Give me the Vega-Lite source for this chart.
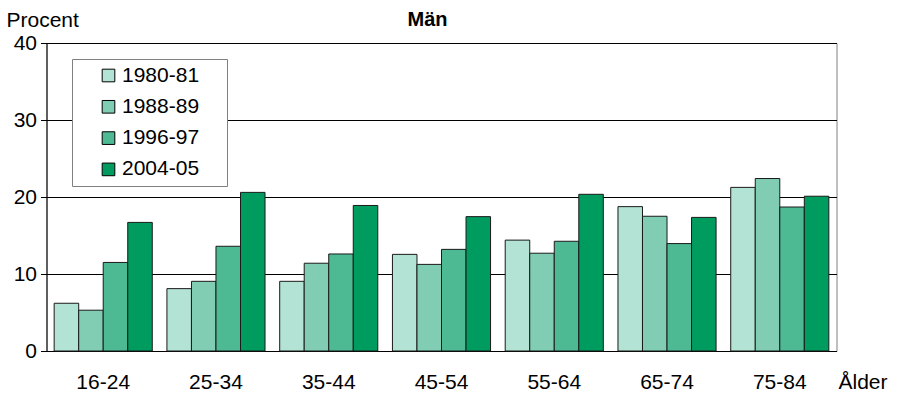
{
  "$schema": "https://vega.github.io/schema/vega-lite/v6.json",
  "autosize": "none",
  "width": 790,
  "height": 308,
  "padding": {"left": 46.5, "top": 43, "right": 65.5, "bottom": 42},
  "background": "white",
  "config": {
    "font": "Liberation Sans",
    "view": {"stroke": "#808080", "strokeWidth": 1}
  },
  "title": {
    "text": "Män",
    "fontSize": 20,
    "fontWeight": "bold",
    "font": "Liberation Sans",
    "color": "black",
    "anchor": "middle",
    "frame": "group",
    "baseline": "alphabetic",
    "offset": 13,
    "dx": -14,
    "dy": 50
  },
  "data": {
    "values": [
      {"age": "16-24", "period": "1980-81", "pct": 6.2},
      {"age": "16-24", "period": "1988-89", "pct": 5.3},
      {"age": "16-24", "period": "1996-97", "pct": 11.5},
      {"age": "16-24", "period": "2004-05", "pct": 16.7},
      {"age": "25-34", "period": "1980-81", "pct": 8.1},
      {"age": "25-34", "period": "1988-89", "pct": 9.05},
      {"age": "25-34", "period": "1996-97", "pct": 13.6},
      {"age": "25-34", "period": "2004-05", "pct": 20.6},
      {"age": "35-44", "period": "1980-81", "pct": 9.05},
      {"age": "35-44", "period": "1988-89", "pct": 11.4},
      {"age": "35-44", "period": "1996-97", "pct": 12.6},
      {"age": "35-44", "period": "2004-05", "pct": 18.9},
      {"age": "45-54", "period": "1980-81", "pct": 12.55},
      {"age": "45-54", "period": "1988-89", "pct": 11.25},
      {"age": "45-54", "period": "1996-97", "pct": 13.2},
      {"age": "45-54", "period": "2004-05", "pct": 17.45},
      {"age": "55-64", "period": "1980-81", "pct": 14.4},
      {"age": "55-64", "period": "1988-89", "pct": 12.7},
      {"age": "55-64", "period": "1996-97", "pct": 14.25},
      {"age": "55-64", "period": "2004-05", "pct": 20.35},
      {"age": "65-74", "period": "1980-81", "pct": 18.75},
      {"age": "65-74", "period": "1988-89", "pct": 17.5},
      {"age": "65-74", "period": "1996-97", "pct": 13.95},
      {"age": "65-74", "period": "2004-05", "pct": 17.35},
      {"age": "75-84", "period": "1980-81", "pct": 21.25},
      {"age": "75-84", "period": "1988-89", "pct": 22.4},
      {"age": "75-84", "period": "1996-97", "pct": 18.7},
      {"age": "75-84", "period": "2004-05", "pct": 20.1}
    ]
  },
  "mark": {"type": "bar", "stroke": "#1a1a1a", "strokeWidth": 1},
  "encoding": {
    "x": {
      "field": "age",
      "type": "nominal",
      "sort": null,
      "scale": {"paddingInner": 0.13, "paddingOuter": 0.068},
      "axis": {
        "title": "Ålder",
        "titleFont": "Liberation Sans",
        "titleFontSize": 21,
        "titleFontWeight": "normal",
        "titleColor": "black",
        "titleX": 791.5,
        "titleY": 37,
        "titleAlign": "left",
        "titleBaseline": "alphabetic",
        "titleAnchor": "start",
        "labelAngle": 0,
        "labelFontSize": 21,
        "labelColor": "black",
        "labelBaseline": "alphabetic",
        "labelPadding": 37,
        "ticks": false,
        "domainColor": "black",
        "domainWidth": 1
      }
    },
    "xOffset": {"field": "period", "type": "nominal", "sort": null, "scale": {"padding": 0}},
    "y": {
      "field": "pct",
      "type": "quantitative",
      "scale": {"domain": [0, 40], "nice": false},
      "axis": {
        "title": "Procent",
        "titleFont": "Liberation Sans",
        "titleFontSize": 21,
        "titleFontWeight": "normal",
        "titleColor": "black",
        "titleAngle": 0,
        "titleX": -40.5,
        "titleY": -17,
        "titleAlign": "left",
        "titleBaseline": "alphabetic",
        "values": [0, 10, 20, 30, 40],
        "labelFontSize": 21,
        "labelColor": "black",
        "labelPadding": 4,
        "tickSize": 6,
        "tickColor": "black",
        "domainColor": "black",
        "gridColor": "black",
        "gridWidth": 1,
        "gridOpacity": 1
      }
    },
    "color": {
      "field": "period",
      "type": "nominal",
      "sort": null,
      "scale": {
        "domain": ["1980-81", "1988-89", "1996-97", "2004-05"],
        "range": ["#b3e3d4", "#80cdb3", "#4dba94", "#009b5f"]
      },
      "legend": {
        "title": "\u00a0",
        "titleOrient": "right",
        "titlePadding": 22,
        "titleFontSize": 21,
        "orient": "none",
        "legendX": 25.5,
        "legendY": 16,
        "direction": "vertical",
        "fillColor": "white",
        "strokeColor": "#808080",
        "padding": 6,
        "symbolType": "square",
        "symbolSize": 160,
        "symbolStrokeColor": "black",
        "symbolStrokeWidth": 1,
        "symbolOpacity": 1,
        "symbolOffset": 20,
        "labelFontSize": 21,
        "labelColor": "black",
        "labelOffset": 3,
        "rowPadding": 9.3
      }
    }
  }
}
